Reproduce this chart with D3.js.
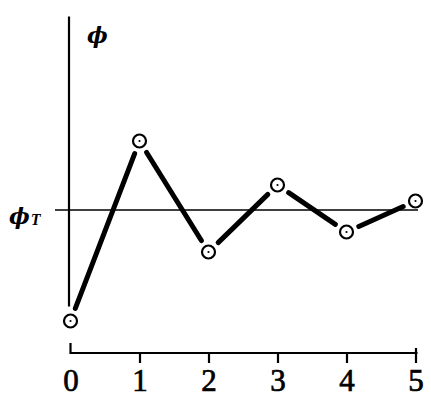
<!DOCTYPE html>
<html><head><meta charset="utf-8">
<script src="https://cdn.jsdelivr.net/npm/d3@7"></script>
<style>body{margin:0;background:#fff}svg{display:block}</style>
</head><body>
<script>
// Data: iteration steps and phi values relative to phi_T (phi_T = 0)
const steps = [0, 1, 2, 3, 4, 5];
const phiValues = [-1.11, 0.69, -0.42, 0.25, -0.22, 0.09];
const tickLabels = ["0", "1", "2", "3", "4", "5"];
const phiT = 0;

const W = 431, H = 403;
const svg = d3.select("body").append("svg").attr("width", W).attr("height", H);

const x = d3.scaleLinear().domain([0, 5]).range([70.5, 415.5]);
const y = d3.scaleLinear().domain([-0.96, 1.94]).range([306, 16]);
const xAxisY = 353;

// Y axis (plain vertical line)
const yAxis = d3.axisLeft(y).tickValues([]).tickSizeOuter(0);
svg.append("g").attr("transform", "translate(68.5,0)").call(yAxis)
  .call(g => g.select(".domain").attr("stroke", "#000").attr("stroke-width", 2.2));

// X axis
const xAxis = d3.axisBottom(x).tickValues(steps).tickFormat((d, i) => tickLabels[i])
  .tickSize(10).tickSizeOuter(0).tickPadding(6);
const gx = svg.append("g").attr("transform", `translate(0,${xAxisY})`).call(xAxis);
gx.select(".domain").attr("stroke", "#000").attr("stroke-width", 2.2)
  .attr("d", `M${x(0)},-10V0H${x(5) + 2}`);
gx.selectAll(".tick line").attr("stroke", "#000").attr("stroke-width", 2.2);
gx.selectAll(".tick").filter(d => d === 0).select("line").attr("y2", 0);
gx.selectAll(".tick").filter(d => d === 5).select("line").attr("y1", -5);
gx.selectAll(".tick text")
  .attr("font-family", "'Liberation Serif', 'Times New Roman', serif")
  .attr("font-size", 31).attr("fill", "#000").attr("stroke", "#000").attr("stroke-width", 0.7);

// phi_T horizontal line
svg.append("line").attr("x1", 55).attr("x2", 418)
  .attr("y1", y(phiT)).attr("y2", y(phiT))
  .attr("stroke", "#000").attr("stroke-width", 1.6);

// Labels
svg.append("text").attr("x", 87).attr("y", 43)
  .attr("font-family", "'DejaVu Serif', 'Liberation Serif', serif").attr("font-style", "italic")
  .attr("font-weight", "bold").attr("font-size", 22).text("\u03d5");
const lt = svg.append("text").attr("x", 9).attr("y", 224)
  .attr("font-family", "'DejaVu Serif', 'Liberation Serif', serif").attr("font-style", "italic")
  .attr("font-weight", "bold").attr("font-size", 22);
lt.append("tspan").text("\u03d5");
lt.append("tspan").attr("font-size", 16).attr("dy", 1).attr("dx", 1)
  .attr("font-family", "'Liberation Serif', serif").text("T");

// Connecting segments with gaps near markers
const pts = steps.map((s, i) => [x(s), y(phiValues[i])]);
const gap = 13.5;
const segs = d3.pairs(pts).map(([a, b]) => {
  const dx = b[0] - a[0], dy = b[1] - a[1], L = Math.hypot(dx, dy);
  const ux = dx / L, uy = dy / L;
  return [a[0] + ux * gap, a[1] + uy * gap, b[0] - ux * gap, b[1] - uy * gap];
});
svg.append("g").selectAll("line").data(segs).join("line")
  .attr("x1", d => d[0]).attr("y1", d => d[1]).attr("x2", d => d[2]).attr("y2", d => d[3])
  .attr("stroke", "#000").attr("stroke-width", 5).attr("stroke-linecap", "round");

// Markers: circle with center dot
const m = svg.append("g").selectAll("g").data(pts).join("g")
  .attr("transform", d => `translate(${d[0]},${d[1]})`);
m.append("circle").attr("r", 6.5).attr("fill", "#fff").attr("stroke", "#000").attr("stroke-width", 2.2);
m.append("circle").attr("r", 1.1).attr("fill", "#000");
</script>
</body></html>
